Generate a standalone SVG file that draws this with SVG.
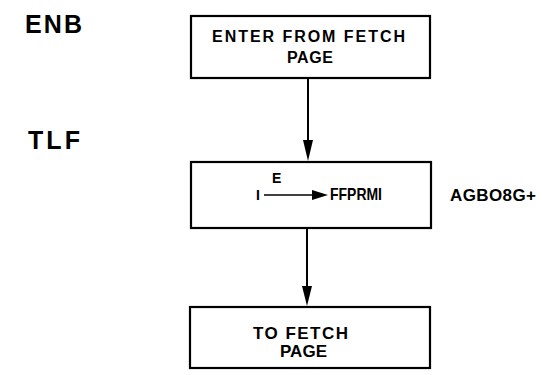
<svg xmlns="http://www.w3.org/2000/svg" width="556" height="375" viewBox="0 0 556 375">
<style>
.box{fill:#fff;stroke:#000;stroke-width:2.2}
.t{font-family:"Liberation Sans",Arial,sans-serif;font-weight:bold;fill:#000}
.big{font-size:25px}
.mid{font-size:16px}
.conn{stroke:#000;stroke-width:2;fill:none}
</style>
<rect width="556" height="375" fill="#fff"/>
<g id="label-enb"><text class="t big" x="25" y="33" textLength="57">ENB</text></g>
<g id="label-tlf"><text class="t big" x="28" y="149" textLength="52">TLF</text></g>
<g id="node-enter">
<rect class="box" x="191" y="16" width="239" height="62"/>
<text class="t mid" x="212" y="42" textLength="193">ENTER FROM FETCH</text>
<text class="t mid" x="287" y="63" textLength="46">PAGE</text>
</g>
<g id="node-tlf">
<rect class="box" x="191" y="162" width="240" height="66"/>
<text class="t" font-size="14" x="272" y="183">E</text>
<text class="t" font-size="14" x="256" y="200">I</text>
<line x1="264" y1="195" x2="314" y2="195" stroke="#000" stroke-width="1.4"/>
<path d="M312,190 L328,195 L312,200 Z" fill="#000"/>
<text class="t" font-size="16.5" x="330" y="200" textLength="52" lengthAdjust="spacingAndGlyphs">FFPRMI</text>
</g>
<g id="label-agb"><text class="t" font-size="17" x="450" y="201" textLength="86">AGBO8G+</text></g>
<g id="node-to">
<rect class="box" x="190" y="307" width="240" height="61"/>
<text class="t" font-size="17" x="253" y="339" textLength="95">TO FETCH</text>
<text class="t" font-size="17" x="280" y="357" textLength="47">PAGE</text>
</g>
<g id="connectors">
<line class="conn" x1="308" y1="78" x2="308" y2="142"/>
<path d="M303,140 L313,140 L308,161 Z" fill="#000"/>
<line class="conn" x1="307" y1="228" x2="307" y2="288"/>
<path d="M302,286 L312,286 L307,306 Z" fill="#000"/>
</g>
</svg>
